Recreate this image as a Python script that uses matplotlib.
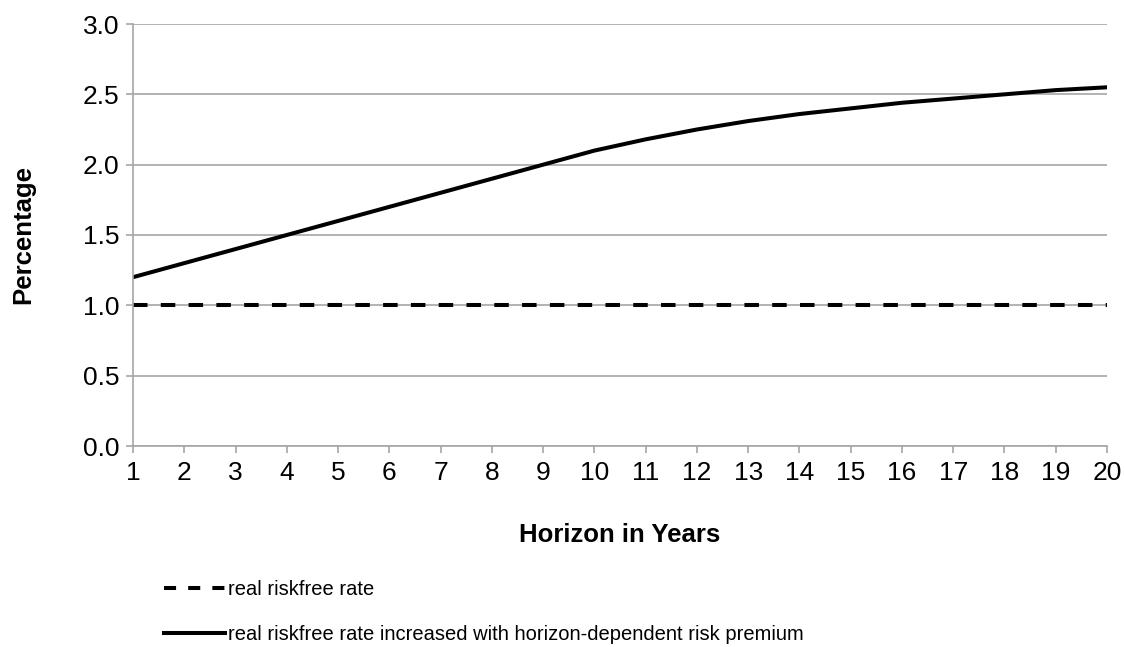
import matplotlib
matplotlib.use('Agg')
import matplotlib.pyplot as plt
from matplotlib.lines import Line2D

plt.rcParams['font.family'] = ['Liberation Sans', 'DejaVu Sans']

# data
years = list(range(1, 21))
riskfree = [1.0] * 20
with_premium = [1.20, 1.30, 1.40, 1.50, 1.60, 1.70, 1.80, 1.90, 2.00, 2.10,
                2.18, 2.25, 2.31, 2.36, 2.40, 2.44, 2.47, 2.50, 2.53, 2.55]
label_rf = 'real riskfree rate'
label_prem = 'real riskfree rate increased with horizon-dependent risk premium'

grid_col = '#a6a6a6'
dash = (0, (3.6, 3.3))

fig = plt.figure(figsize=(11.24, 6.47), dpi=100)
ax = fig.add_axes([133 / 1124, 1 - 446 / 647, (1107 - 133) / 1124, (446 - 24) / 647])

ax.plot(years, riskfree, color='black', lw=2.9, ls=dash)
ax.plot(years, with_premium, color='black', lw=2.9)

ax.set_xlim(1, 20)
ax.set_ylim(0, 3.0)
ax.set_xticks(years)
ax.set_yticks([0, 0.5, 1.0, 1.5, 2.0, 2.5, 3.0])
ax.set_yticklabels(['%.1f' % v for v in ax.get_yticks()])
ax.grid(axis='y', color=grid_col, lw=1.2)
ax.set_axisbelow(True)
for s in ['top', 'right']:
    ax.spines[s].set_visible(False)
for s in ['left', 'bottom']:
    ax.spines[s].set_color(grid_col)
    ax.spines[s].set_linewidth(1.2)
ax.tick_params(axis='both', colors=grid_col, labelcolor='black', labelsize=19,
               length=5, width=1.2, direction='out')
ax.tick_params(axis='y', pad=5)
ax.tick_params(axis='x', pad=6)

ax.set_xlabel('Horizon in Years', fontsize=18.5, fontweight='bold', labelpad=27)
ax.set_ylabel('Percentage', fontsize=18.5, fontweight='bold', labelpad=34)

handles = [Line2D([], [], color='black', lw=2.9, ls=(0, (3.0, 3.0))),
           Line2D([], [], color='black', lw=2.9)]
fig.legend(handles, [label_rf, label_prem], loc='upper left',
           bbox_to_anchor=(146 / 1124, 1 - 562 / 647), frameon=False,
           fontsize=14.5, handlelength=3.0, handletextpad=0.15, labelspacing=1.3)

fig.savefig('out.png', dpi=100)
